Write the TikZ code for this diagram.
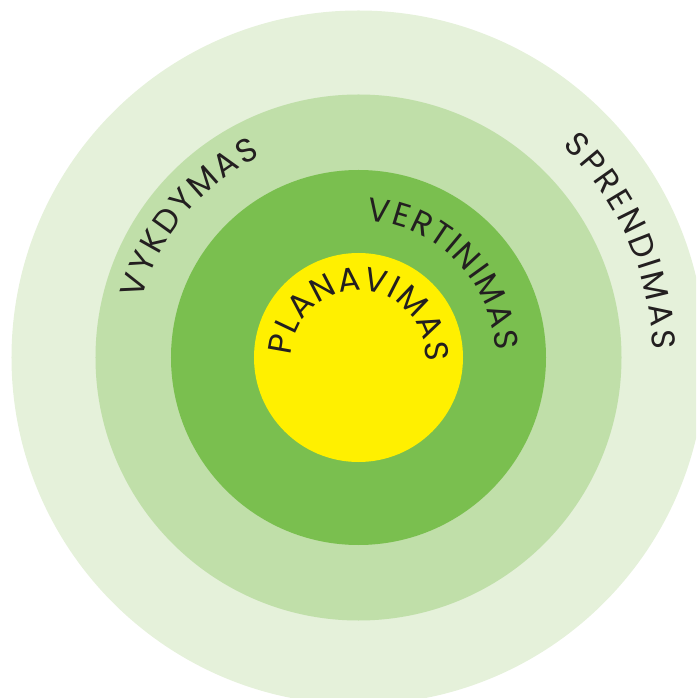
\documentclass[tikz,border=0pt]{standalone}
\usepackage{fontspec}
\setmainfont{Poppins}[Scale=3.3]
\usetikzlibrary{decorations.text}
\definecolor{ringA}{RGB}{229,241,218}
\definecolor{ringB}{RGB}{192,223,169}
\definecolor{ringC}{RGB}{122,191,79}
\definecolor{core}{RGB}{255,240,0}
\definecolor{ink}{RGB}{35,31,32}
\tikzset{
  disc/.style={circle, inner sep=0pt, draw=none, fill=#1},
  arclabel/.style={decorate, decoration={text along path, text color=ink,
      text={#1}, text align={fit to path}}}
}
\begin{document}
\begin{tikzpicture}[x=1pt,y=1pt]
\useasboundingbox (-358.5,-340.5) rectangle (337.5,357.5);
\clip (-358.5,-340.5) rectangle (337.5,357.5);
\node[disc=ringA, minimum size=694pt] (outer) at (0,0) {};
\node[disc=ringB, minimum size=526pt] (second) at (0,0) {};
\node[disc=ringC, minimum size=375pt] (third) at (0,0) {};
\node[disc=core, minimum size=209pt] (inner) at (0,0) {};
\path[arclabel=PLANAVIMAS] (inner.center) ++(178:67) arc[start angle=178, end angle=-3.5, radius=67];
\path[arclabel=VERTINIMAS] (third.center) ++(86.5:137) arc[start angle=86.5, end angle=3, radius=137];
\path[arclabel=VYKDYMAS] (second.center) ++(165:224) arc[start angle=165, end angle=116, radius=224];
\path[arclabel=SPRENDIMAS] (outer.center) ++(46:294) arc[start angle=46, end angle=1.5, radius=294];
\end{tikzpicture}
\end{document}
